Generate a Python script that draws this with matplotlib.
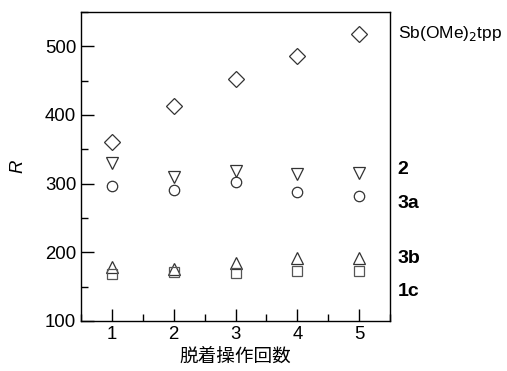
import matplotlib.pyplot as plt
from matplotlib.transforms import blended_transform_factory
from matplotlib.ticker import MultipleLocator

# ---- data ----
cycles = [1, 2, 3, 4, 5]
r_sb = [360, 413, 452, 486, 518]
r_2 = [330, 310, 318, 314, 315]
r_3a = [297, 291, 302, 287, 282]
r_3b = [178, 176, 184, 192, 192]
r_1c = [169, 171, 170, 172, 173]

series_labels = ["Sb(OMe)$_2$tpp", "2", "3a", "3b", "1c"]
label_y = [518, 320, 271, 191, 143]

plt.rcParams['font.family'] = ['Liberation Sans', 'Noto Sans CJK JP', 'DejaVu Sans']

fig = plt.figure(figsize=(5.07, 3.71), dpi=100)
ax = fig.add_axes([0.160, 0.135, 0.609, 0.833])

edge = "#333333"
ax.plot(cycles, r_sb, linestyle="none", marker="D", ms=8, mfc="none", mec=edge, mew=0.9)
ax.plot(cycles, r_2, linestyle="none", marker="v", ms=8, mfc="none", mec=edge, mew=0.9)
ax.plot(cycles, r_3a, linestyle="none", marker="o", ms=7.5, mfc="none", mec=edge, mew=0.9)
ax.plot(cycles, r_3b, linestyle="none", marker="^", ms=8, mfc="none", mec=edge, mew=0.9)
ax.plot(cycles, r_1c, linestyle="none", marker="s", ms=7, mfc="none", mec="#555555", mew=0.9)

ax.set_xlim(0.5, 5.5)
ax.set_ylim(100, 550)
ax.set_xticks(cycles)
ax.set_yticks([100, 200, 300, 400, 500])
ax.xaxis.set_minor_locator(MultipleLocator(0.5))
ax.yaxis.set_minor_locator(MultipleLocator(50))
ax.tick_params(which="both", direction="in", top=False, right=False, labelsize=13.4)
ax.tick_params(which="major", length=9, width=1)
ax.tick_params(which="minor", length=5, width=1)
ax.tick_params(axis="x", pad=4)
for s in ax.spines.values():
    s.set_linewidth(1)

ax.set_ylabel("R", style="italic", fontsize=13.4, labelpad=13)
ax.set_xlabel("脱着操作回数", fontsize=13.4, family=['Noto Sans CJK JP'], labelpad=3)

trans = blended_transform_factory(ax.transAxes, ax.transData)
for i, (lab, yy) in enumerate(zip(series_labels, label_y)):
    ax.text(1.025, yy, lab, transform=trans, va="center", ha="left",
            fontsize=12.5 if i == 0 else 14, fontweight="normal" if i == 0 else "bold",
            clip_on=False)

fig.savefig("out.png", dpi=100)
